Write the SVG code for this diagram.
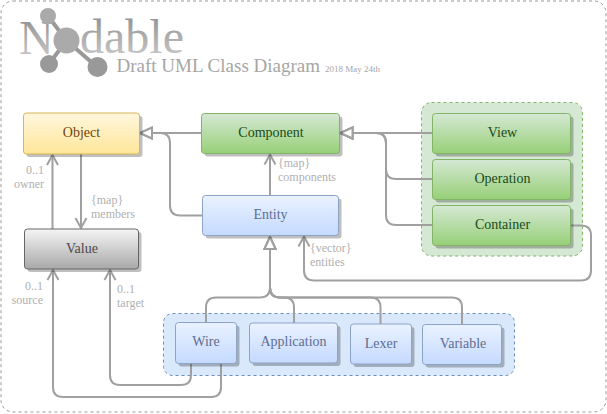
<svg xmlns="http://www.w3.org/2000/svg" width="607" height="414" viewBox="0 0 607 414">
<style>
text{font-family:"Liberation Serif","Times New Roman",serif}
.lbl{font-size:14px;text-anchor:middle}
.note{font-size:12px;fill:#b0b0b0}
.shadow{fill:#000;opacity:.25}
.c{fill:none;stroke:#a0a0a0;stroke-width:2}
.green{fill:url(#gGreen);stroke:#82b366;stroke-width:1}
.blue{fill:url(#gBlue);stroke:#8ca3c6;stroke-width:1}
.gl{fill:#1a4a1a}
.bl{fill:#5f6e90}
</style>
<defs>
<linearGradient id="gYellow" x1="0" y1="0" x2="0" y2="1"><stop offset="0" stop-color="#fff7de"/><stop offset="1" stop-color="#ffe699"/></linearGradient>
<linearGradient id="gGreen" x1="0" y1="0" x2="0" y2="1"><stop offset="0" stop-color="#d5e8d4"/><stop offset="1" stop-color="#97d077"/></linearGradient>
<linearGradient id="gBlue" x1="0" y1="0" x2="0" y2="1"><stop offset="0" stop-color="#e9f2ff"/><stop offset="1" stop-color="#c5daff"/></linearGradient>
<linearGradient id="gGrey" x1="0" y1="0" x2="0" y2="1"><stop offset="0" stop-color="#f5f5f5"/><stop offset="1" stop-color="#a8a8a8"/></linearGradient>
<linearGradient id="gLogo" x1="0" y1="0" x2="0" y2="1"><stop offset="0" stop-color="#8a8a8a"/><stop offset="1" stop-color="#cfcfcf"/></linearGradient>
<marker id="open" markerUnits="userSpaceOnUse" markerWidth="14" markerHeight="14" refX="11" refY="7" orient="auto"><path d="M1 1.500L11 7L1 12.500" fill="none" stroke="#a0a0a0" stroke-width="2"/></marker>
<marker id="tri" markerUnits="userSpaceOnUse" markerWidth="16" markerHeight="16" refX="14" refY="8" orient="auto"><path d="M2 2.500L14 8L2 13.500Z" fill="#fff" stroke="#a0a0a0" stroke-width="2"/></marker>
</defs>

<rect x="1" y="1" width="605" height="411" rx="12" fill="#fff" stroke="#999" stroke-dasharray="3 3"/>

<g id="logo">
<text x="19" y="54" font-size="48" fill="url(#gLogo)">N</text>
<text x="80" y="53" font-size="48" fill="url(#gLogo)">dable</text>
<path d="M48 16L66.500 40.500L49 64M66.500 40.500L97 67" fill="none" stroke="#999" stroke-width="4"/>
<circle cx="48" cy="16" r="8" fill="#aaa"/>
<circle cx="66.500" cy="40.500" r="13" fill="#aaa"/>
<circle cx="49" cy="64" r="9" fill="#999"/>
<circle cx="97.500" cy="67" r="10" fill="#999"/>
<text x="116.500" y="72" font-size="19" fill="#a6a6a6">Draft UML Class Diagram</text>
<text x="325" y="72" font-size="9" fill="#a6a6a6">2018 May 24th</text>
</g>

<g id="group-views">
<rect x="421.500" y="102.500" width="161" height="153.500" rx="10" fill="#d5e8d4" stroke="#82b366" stroke-dasharray="3 3"/>
</g>
<g id="group-entities">
<rect x="163.500" y="313.500" width="351" height="62" rx="9" fill="#dae8fc" stroke="#6c8ebf" stroke-dasharray="3 3"/>
</g>

<g id="connectors">
<path class="c" d="M52.500 229V155" marker-end="url(#open)"/>
<path class="c" d="M81 154V228" marker-end="url(#open)"/>
<path class="c" d="M201.500 133H140" marker-end="url(#tri)"/>
<path class="c" d="M202.500 215.500H180Q170 215.500 170 205.500V143Q170 133 160 133H140" marker-end="url(#tri)"/>
<path class="c" d="M270 195.500V154.500" marker-end="url(#open)"/>
<path class="c" d="M432.500 133H340.500" marker-end="url(#tri)"/>
<path class="c" d="M432.500 179H396Q386 179 386 169V143Q386 133 376 133H340.500" marker-end="url(#tri)"/>
<path class="c" d="M432.500 225H396Q386 225 386 215V143Q386 133 376 133H340.500" marker-end="url(#tri)"/>
<path class="c" d="M570.500 225.500H581Q591 225.500 591 235.500V270.500Q591 280.500 581 280.500H314Q304 280.500 304 270.500V236.500" marker-end="url(#open)"/>
<path class="c" d="M206 322.500V307.500Q206 297.500 216 297.500H260Q270 297.500 270 287.500V237" marker-end="url(#tri)"/>
<path class="c" d="M294 323V307.500Q294 297.500 284 297.500H280Q270 297.500 270 287.500V237" marker-end="url(#tri)"/>
<path class="c" d="M380.500 324V307.500Q380.500 297.500 370.500 297.500H280Q270 297.500 270 287.500V237" marker-end="url(#tri)"/>
<path class="c" d="M462 324.500V307.500Q462 297.500 452 297.500H280Q270 297.500 270 287.500V237" marker-end="url(#tri)"/>
<path class="c" d="M191 363V375Q191 385 181 385H120Q110 385 110 375V270" marker-end="url(#open)"/>
<path class="c" d="M221 363V387Q221 397 211 397H63Q53 397 53 387V270" marker-end="url(#open)"/>
</g>

<g id="labels">
<text class="note" x="44" y="174" text-anchor="end">0..1</text>
<text class="note" x="44" y="188" text-anchor="end">owner</text>
<text class="note" x="91" y="203.500">{map}</text>
<text class="note" x="91" y="217.500">members</text>
<text class="note" x="278" y="166.500">{map}</text>
<text class="note" x="278" y="180.500">components</text>
<text class="note" x="310" y="251.500">{vector}</text>
<text class="note" x="310" y="265.500">entities</text>
<text class="note" x="43" y="289.500" text-anchor="end">0..1</text>
<text class="note" x="43" y="303.500" text-anchor="end">source</text>
<text class="note" x="117" y="292.500">0..1</text>
<text class="note" x="117" y="306.500">target</text>
</g>

<g id="object">
<rect class="shadow" x="26.500" y="116" width="116" height="41" rx="3"/>
<rect x="23.500" y="113" width="116" height="41" rx="3" fill="url(#gYellow)" stroke="#d6b656"/>
<text class="lbl" x="81.500" y="137" fill="#6f4510">Object</text>
</g>
<g id="value">
<rect class="shadow" x="27.500" y="232" width="114" height="40" rx="3"/>
<rect x="24.500" y="229" width="114" height="40" rx="3" fill="url(#gGrey)" stroke="#666"/>
<text class="lbl" x="82" y="253" fill="#4a4a4a">Value</text>
</g>
<g id="component">
<rect class="shadow" x="204.500" y="116.500" width="138" height="40" rx="3"/>
<rect class="green" x="201.500" y="113.500" width="138" height="40" rx="3"/>
<text class="lbl gl" x="271" y="137">Component</text>
</g>
<g id="entity">
<rect class="shadow" x="205.500" y="198.500" width="136" height="40" rx="3"/>
<rect class="blue" x="202.500" y="195.500" width="136" height="40" rx="3"/>
<text class="lbl bl" x="270.500" y="219">Entity</text>
</g>
<g id="view">
<rect class="shadow" x="435.500" y="116.500" width="138" height="40" rx="3"/>
<rect class="green" x="432.500" y="113.500" width="138" height="40" rx="3"/>
<text class="lbl gl" x="502.500" y="137">View</text>
</g>
<g id="operation">
<rect class="shadow" x="435.500" y="162.500" width="138" height="40" rx="3"/>
<rect class="green" x="432.500" y="159.500" width="138" height="40" rx="3"/>
<text class="lbl gl" x="502.500" y="183">Operation</text>
</g>
<g id="container">
<rect class="shadow" x="435.500" y="208.500" width="138" height="40" rx="3"/>
<rect class="green" x="432.500" y="205.500" width="138" height="40" rx="3"/>
<text class="lbl gl" x="502.500" y="229">Container</text>
</g>
<g id="wire">
<rect class="shadow" x="178.500" y="325.500" width="61" height="41" rx="3"/>
<rect class="blue" x="175.500" y="322.500" width="61" height="41" rx="3"/>
<text class="lbl bl" x="206" y="346">Wire</text>
</g>
<g id="application">
<rect class="shadow" x="252.500" y="326" width="88" height="40" rx="3"/>
<rect class="blue" x="249.500" y="323" width="88" height="40" rx="3"/>
<text class="lbl bl" x="293.500" y="346">Application</text>
</g>
<g id="lexer">
<rect class="shadow" x="353.500" y="327" width="61" height="40" rx="3"/>
<rect class="blue" x="350.500" y="324" width="61" height="40" rx="3"/>
<text class="lbl bl" x="381" y="348">Lexer</text>
</g>
<g id="variable">
<rect class="shadow" x="425.500" y="327.500" width="79" height="40" rx="3"/>
<rect class="blue" x="422.500" y="324.500" width="79" height="40" rx="3"/>
<text class="lbl bl" x="463" y="348">Variable</text>
</g>
</svg>
